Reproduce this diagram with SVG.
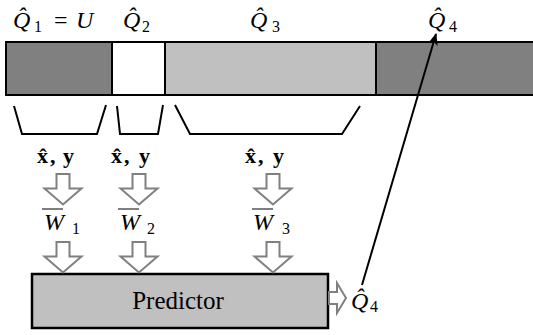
<svg xmlns="http://www.w3.org/2000/svg" width="533" height="335" viewBox="0 0 533 335" font-family="'Liberation Serif', 'DejaVu Serif', serif">
<style>
text{font-family:'Liberation Serif','DejaVu Serif',serif;fill:#000}
.it{font-style:italic;font-size:24px}
.sub{font-size:16px}
.rm{font-size:24px}
.bd{font-weight:bold;font-size:22px}
.seg{stroke:#000;stroke-width:2}
.br{fill:none;stroke:#000;stroke-width:2}
.ha{fill:#fff;stroke:#808080;stroke-width:2}
.ov{stroke:#000;stroke-width:1}
</style>
<defs>
<path id="darr" d="M-6.5,0 H6.5 V14.5 H18.5 L0,30.5 L-18.5,14.5 H-6.5 Z"/>
<marker id="ah" viewBox="0 0 12 10" refX="11" refY="5" markerWidth="12" markerHeight="10" markerUnits="userSpaceOnUse" orient="auto">
<path d="M0,0 L12,5 L0,10 L3,5 Z" fill="#000"/>
</marker>
</defs>

<g id="bar">
<rect class="seg" x="6" y="42" width="106" height="53" fill="#808080"/>
<rect class="seg" x="112" y="42" width="53" height="53" fill="#fff"/>
<rect class="seg" x="165" y="42" width="211" height="53" fill="#c0c0c0"/>
<rect class="seg" x="376" y="42" width="164" height="53" fill="#808080"/>
</g>

<g id="q1">
<text class="it" x="13" y="28">Q̂</text>
<text class="sub" x="34" y="32">1</text>
<text class="rm" x="54" y="28">=</text>
<text class="it" x="76" y="28">U</text>
</g>
<g id="q2">
<text class="it" x="123" y="28">Q̂</text>
<text class="sub" x="142" y="32">2</text>
</g>
<g id="q3">
<text class="it" x="250" y="28">Q̂</text>
<text class="sub" x="272" y="32">3</text>
</g>
<g id="q4top">
<text class="it" x="428" y="28">Q̂</text>
<text class="sub" x="449" y="32">4</text>
</g>

<g id="brackets">
<polyline class="br" points="14,106 22,134 97,134 106,105"/>
<polyline class="br" points="117,106 120,134 158,134 163,105"/>
<polyline class="br" points="175,105 190,134 342,134 360,106"/>
</g>

<g id="xy1">
<text class="bd" x="37" y="163">x̂</text>
<text class="bd" x="50" y="163">,</text>
<text class="bd" x="63" y="163">y</text>
</g>
<g id="xy2">
<text class="bd" x="111" y="163">x̂</text>
<text class="bd" x="124" y="163">,</text>
<text class="bd" x="139" y="163">y</text>
</g>
<g id="xy3">
<text class="bd" x="245" y="163">x̂</text>
<text class="bd" x="258" y="163">,</text>
<text class="bd" x="273" y="163">y</text>
</g>

<g id="w1">
<line class="ov" x1="42" y1="209" x2="63" y2="209"/>
<text class="it" x="44" y="230">W</text>
<text class="sub" x="72" y="234">1</text>
</g>
<g id="w2">
<line class="ov" x1="118" y1="209" x2="139" y2="209"/>
<text class="it" x="120" y="230">W</text>
<text class="sub" x="147" y="234">2</text>
</g>
<g id="w3">
<line class="ov" x1="252" y1="209" x2="273" y2="209"/>
<text class="it" x="253" y="230">W</text>
<text class="sub" x="282" y="234">3</text>
</g>

<g id="predictor">
<rect x="32" y="274" width="296" height="54" fill="#c0c0c0" stroke="#000" stroke-width="2.5"/>
<text x="178" y="309" text-anchor="middle" font-size="25">Predictor</text>
</g>

<g id="q4out">
<text class="it" x="351" y="309">Q̂</text>
<text class="sub" x="370" y="312">4</text>
</g>

<g id="connectors">
<use href="#darr" class="ha" x="63" y="174"/>
<use href="#darr" class="ha" x="139" y="174"/>
<use href="#darr" class="ha" x="273" y="174"/>
<use href="#darr" class="ha" x="63" y="242"/>
<use href="#darr" class="ha" x="139" y="242"/>
<use href="#darr" class="ha" x="273" y="242"/>
<path class="ha" d="M329,292 H337 V283 L346,298 L337,313 V304 H329 Z"/>
<line x1="362" y1="285" x2="436" y2="34" stroke="#000" stroke-width="2" marker-end="url(#ah)"/>
</g>
</svg>
